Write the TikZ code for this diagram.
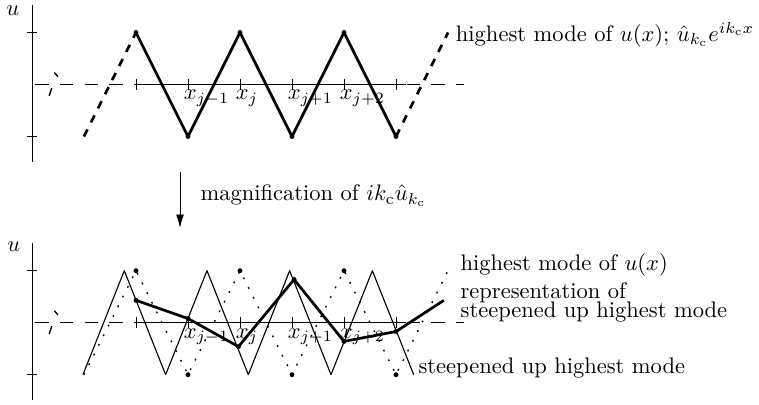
\documentclass[tikz,border=0pt]{standalone}
\usetikzlibrary{arrows.meta}
\begin{document}
\begin{tikzpicture}[x=0.812cm, y=0.812cm, line join=round, >={Latex[length=6pt,width=3.5pt]},
	axisdash/.style={dash pattern=on 6pt off 5pt},
	modeline/.style={line width=1.2pt},
	steepline/.style={line width=0.5pt},
	dotline/.style={line width=0.6pt, dash pattern=on 0.8pt off 4pt},
	gridlabel/.style={anchor=north west, inner sep=0pt}]

	\useasboundingbox (-2.615,1.625) rectangle (11.98,-6.144);

	% --- upper picture: highest mode ---
	\draw (-2,-1.49) -- (-2,1.53);
	\node (uTop) at (-2.37,1.42) {$u$};
	\foreach \y in {-1,1} {
		\draw (-2.09,\y) -- (-1.91,\y);
	}
	\draw[axisdash] (-1.94,0) -- (6.3,0);
	\draw (0,0) -- (5.2,0);
	\foreach \x in {0,...,5} {
		\draw (\x,0.1) -- (\x,-0.1);
	}
	\draw[semithick] (-1.57,0.23) -- (-1.50,0.15);
	\draw[semithick] (-1.67,-0.22) -- (-1.62,-0.07);
	\foreach \x/\t in {1/{j-1}, 2/j, 3/{j+1}, 4/{j+2}} {
		\node[gridlabel] at (\x-0.09,-0.1) {$x_{\t}$};
	}

	\draw[modeline] (0,1) -- (1,-1) -- (2,1) -- (3,-1) -- (4,1) -- (5,-1);
	\draw[modeline, dash pattern=on 3.5pt off 3.5pt] (-1,-1) -- (0,1);
	\draw[modeline, dash pattern=on 3.5pt off 3.5pt] (5,-1) -- (6,1);
	\foreach \x/\y in {0/1, 1/-1, 2/1, 3/-1, 4/1, 5/-1} {
		\fill (\x,\y) circle (1.1pt);
	}
	\node[right] (modeTop) at (6,0.96) {highest mode of $u(x)$; $\hat{u}_{k_{\mathrm{c}}}e^{ik_{\mathrm{c}}x}$};

	% --- arrow ---
	\draw[->] (0.846,-1.68) -- (0.846,-2.76);
	\node[right] (magText) at (1.09,-2.14) {magnification of $ik_{\mathrm{c}}\hat{u}_{k_{\mathrm{c}}}$};

	% --- lower picture: steepened mode ---
	\begin{scope}[shift={(0,-4.58)}]
	\draw (-2,-1.49) -- (-2,1.53);
	\node (uBot) at (-2.35,1.46) {$u$};
	\foreach \y in {-1,1} {
		\draw (-2.09,\y) -- (-1.91,\y);
	}
	\draw[axisdash] (-1.94,0) -- (6.3,0);
	\draw (0,0) -- (5.2,0);
	\foreach \x in {0,...,5} {
		\draw (\x,0.1) -- (\x,-0.1);
	}
	\draw[semithick] (-1.57,0.23) -- (-1.50,0.15);
	\draw[semithick] (-1.67,-0.22) -- (-1.62,-0.07);
	\foreach \x/\t in {1/{j-1}, 2/j, 3/{j+1}, 4/{j+2}} {
		\node[gridlabel] at (\x-0.09,-0.1) {$x_{\t}$};
	}

	% original mode, dotted
	\draw[dotline] (-1,-1) -- (0,1) -- (1,-1) -- (2,1) -- (3,-1) -- (4,1) -- (5,-1) -- (6,1);
	\foreach \x/\y in {0/1, 1/-1, 2/1, 3/-1, 4/1, 5/-1} {
		\fill (\x,\y) circle (1.1pt);
	}

	% steepened mode
	\draw[steepline] (-1.02,-1) -- (-0.225,1) -- (0.57,-1) -- (1.365,1) -- (2.16,-1)
		-- (2.955,1) -- (3.75,-1) -- (4.545,1) -- (5.34,-1);

	% its representation on the grid
	\draw[modeline] (0,0.43) -- (1,0.08) -- (1.97,-0.46) -- (3.04,0.83) -- (4,-0.36) -- (5,-0.17) -- (5.92,0.43);
	\foreach \x/\y in {0/0.43, 1/0.08, 1.97/-0.46, 3.04/0.83, 4/-0.36, 5/-0.17} {
		\fill (\x,\y) circle (1.1pt);
	}

	\node[right] (modeBot) at (6.09,1.11) {highest mode of $u(x)$};
	\node[right, align=left] (reprText) at (6.09,0.39) {representation of\\[-3.6pt]steepened up highest mode};
	\node[right] (steepText) at (5.28,-0.87) {steepened up highest mode};
	\end{scope}

\end{tikzpicture}
\end{document}
